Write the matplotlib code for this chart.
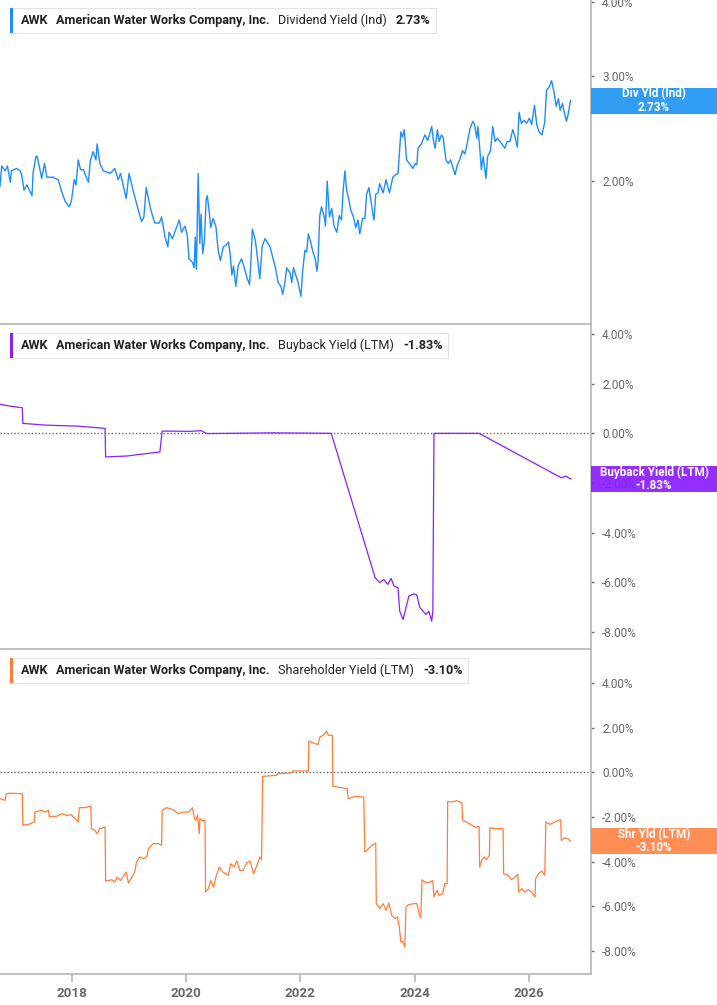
import matplotlib
matplotlib.use("Agg")
import matplotlib.pyplot as plt
from matplotlib.patches import Rectangle
from matplotlib.ticker import FixedLocator, NullLocator, FuncFormatter

plt.rcParams["font.family"] = ["Roboto", "DejaVu Sans"]

W, H = 717, 1005

# ---- data (decimal year, percent) ----
div_years = [
    2016.74, 2016.77, 2016.83, 2016.87, 2016.92, 2016.94, 2017.03, 2017.09, 2017.12, 2017.16,
    2017.21, 2017.30, 2017.32, 2017.37, 2017.39, 2017.44, 2017.47, 2017.52, 2017.56, 2017.67,
    2017.76, 2017.82, 2017.88, 2017.95, 2017.99, 2018.04, 2018.07, 2018.11, 2018.15, 2018.20,
    2018.25, 2018.29, 2018.32, 2018.37, 2018.42, 2018.44, 2018.49, 2018.55, 2018.67, 2018.75,
    2018.81, 2018.85, 2018.95, 2019.00, 2019.07, 2019.16, 2019.22, 2019.26, 2019.30, 2019.34,
    2019.38, 2019.45, 2019.53, 2019.57, 2019.63, 2019.68, 2019.70, 2019.76, 2019.80, 2019.88,
    2019.92, 2019.98, 2020.02, 2020.05, 2020.11, 2020.14, 2020.16, 2020.18, 2020.21, 2020.24,
    2020.26, 2020.29, 2020.32, 2020.35, 2020.37, 2020.40, 2020.43, 2020.47, 2020.52, 2020.56,
    2020.60, 2020.65, 2020.70, 2020.74, 2020.77, 2020.80, 2020.83, 2020.87, 2020.91, 2020.97,
    2021.01, 2021.06, 2021.11, 2021.13, 2021.16, 2021.21, 2021.23, 2021.29, 2021.33, 2021.38,
    2021.47, 2021.53, 2021.57, 2021.61, 2021.66, 2021.69, 2021.73, 2021.76, 2021.82, 2021.85,
    2021.88, 2021.92, 2021.96, 2022.01, 2022.04, 2022.08, 2022.11, 2022.14, 2022.18, 2022.22,
    2022.26, 2022.29, 2022.31, 2022.34, 2022.37, 2022.42, 2022.44, 2022.47, 2022.51, 2022.55,
    2022.59, 2022.64, 2022.68, 2022.72, 2022.75, 2022.78, 2022.81, 2022.84, 2022.88, 2022.93,
    2022.97, 2023.01, 2023.04, 2023.09, 2023.13, 2023.16, 2023.20, 2023.23, 2023.27, 2023.29,
    2023.32, 2023.36, 2023.39, 2023.45, 2023.50, 2023.56, 2023.62, 2023.67, 2023.71, 2023.76,
    2023.79, 2023.82, 2023.86, 2023.91, 2023.97, 2024.01, 2024.04, 2024.06, 2024.12, 2024.18,
    2024.23, 2024.27, 2024.30, 2024.33, 2024.36, 2024.40, 2024.43, 2024.47, 2024.50, 2024.55,
    2024.59, 2024.63, 2024.71, 2024.75, 2024.79, 2024.84, 2024.88, 2024.92, 2024.97, 2025.02,
    2025.05, 2025.09, 2025.11, 2025.14, 2025.17, 2025.20, 2025.25, 2025.28, 2025.33, 2025.37,
    2025.41, 2025.45, 2025.50, 2025.58, 2025.62, 2025.67, 2025.72, 2025.76, 2025.80, 2025.83,
    2025.87, 2025.92, 2025.96, 2026.01, 2026.05, 2026.10, 2026.14, 2026.18, 2026.23, 2026.28,
    2026.31, 2026.36, 2026.40, 2026.44, 2026.48, 2026.52, 2026.55, 2026.59, 2026.63, 2026.66,
    2026.69, 2026.73,
]
div_yield = [
    1.96, 2.12, 2.08, 2.12, 1.99, 2.08, 2.10, 2.08, 2.05, 1.93,
    1.97, 1.89, 2.07, 2.20, 2.20, 2.09, 2.02, 2.14, 2.03, 2.03,
    2.01, 1.92, 1.85, 1.81, 1.85, 2.01, 1.97, 2.17, 2.09, 2.09,
    2.03, 1.99, 2.16, 2.24, 2.17, 2.31, 2.14, 2.08, 2.06, 2.10,
    2.01, 2.06, 1.87, 2.06, 1.93, 1.79, 1.71, 1.74, 1.95, 1.87,
    1.79, 1.70, 1.70, 1.74, 1.61, 1.55, 1.64, 1.60, 1.64, 1.72,
    1.64, 1.68, 1.62, 1.48, 1.46, 1.43, 1.61, 1.42, 2.06, 1.57,
    1.76, 1.51, 1.59, 1.86, 1.89, 1.79, 1.67, 1.73, 1.68, 1.53,
    1.47, 1.55, 1.56, 1.58, 1.51, 1.39, 1.44, 1.33, 1.44, 1.48,
    1.44, 1.38, 1.34, 1.44, 1.66, 1.59, 1.54, 1.37, 1.55, 1.60,
    1.55, 1.47, 1.42, 1.35, 1.33, 1.29, 1.35, 1.43, 1.40, 1.35,
    1.43, 1.39, 1.35, 1.28, 1.41, 1.53, 1.52, 1.63, 1.58, 1.52,
    1.48, 1.41, 1.47, 1.75, 1.81, 1.74, 1.68, 2.00, 1.74, 1.80,
    1.68, 1.64, 1.75, 1.72, 1.93, 2.08, 1.93, 1.88, 1.79, 1.74,
    1.67, 1.72, 1.63, 1.73, 1.73, 1.90, 1.95, 1.87, 1.76, 1.72,
    1.90, 1.91, 1.98, 1.91, 2.01, 1.91, 2.03, 2.05, 2.06, 2.42,
    2.37, 2.44, 2.17, 2.14, 2.10, 2.14, 2.13, 2.27, 2.31, 2.39,
    2.34, 2.41, 2.47, 2.34, 2.27, 2.44, 2.33, 2.39, 2.37, 2.17,
    2.14, 2.17, 2.05, 2.13, 2.17, 2.25, 2.22, 2.31, 2.45, 2.52,
    2.49, 2.36, 2.47, 2.28, 2.09, 2.20, 2.02, 2.20, 2.25, 2.47,
    2.33, 2.36, 2.33, 2.27, 2.33, 2.33, 2.44, 2.37, 2.28, 2.61,
    2.50, 2.53, 2.50, 2.55, 2.49, 2.68, 2.49, 2.42, 2.39, 2.51,
    2.84, 2.88, 2.95, 2.83, 2.67, 2.75, 2.63, 2.70, 2.59, 2.52,
    2.59, 2.73,
]

bb_years = [
    2016.74, 2016.90, 2017.13, 2017.14, 2017.54, 2018.10, 2018.58, 2018.59, 2018.98, 2019.14,
    2019.54, 2019.58, 2020.10, 2020.26, 2020.36, 2021.54, 2022.54, 2023.31, 2023.39, 2023.46,
    2023.53, 2023.59, 2023.64, 2023.71, 2023.74, 2023.80, 2023.85, 2023.90, 2023.99, 2024.04,
    2024.09, 2024.15, 2024.20, 2024.25, 2024.30, 2024.32, 2024.34, 2025.13, 2026.57, 2026.65,
    2026.71, 2026.74,
]
bb_yield = [
    1.17, 1.10, 1.03, 0.40, 0.33, 0.29, 0.20, -0.95, -0.91, -0.86,
    -0.75, 0.09, 0.08, 0.11, -0.01, 0.02, 0.00, -5.81, -6.01, -5.88,
    -6.08, -5.84, -6.15, -6.21, -7.16, -7.49, -7.02, -6.55, -6.46, -6.51,
    -7.00, -7.16, -7.29, -7.16, -7.56, -7.16, 0.00, 0.00, -1.79, -1.72,
    -1.81, -1.83,
]

shr_years = [
    2016.74, 2016.83, 2016.85, 2016.92, 2017.13, 2017.14, 2017.24, 2017.34, 2017.35, 2017.47,
    2017.53, 2017.59, 2017.60, 2017.73, 2017.82, 2017.91, 2017.99, 2018.04, 2018.11, 2018.13,
    2018.23, 2018.33, 2018.34, 2018.40, 2018.44, 2018.49, 2018.58, 2018.59, 2018.70, 2018.75,
    2018.79, 2018.85, 2018.90, 2018.95, 2018.99, 2019.05, 2019.10, 2019.13, 2019.19, 2019.25,
    2019.31, 2019.34, 2019.42, 2019.51, 2019.57, 2019.58, 2019.66, 2019.77, 2019.86, 2019.95,
    2020.04, 2020.11, 2020.14, 2020.17, 2020.20, 2020.23, 2020.24, 2020.27, 2020.33, 2020.34,
    2020.39, 2020.43, 2020.48, 2020.52, 2020.58, 2020.64, 2020.70, 2020.74, 2020.78, 2020.84,
    2020.89, 2020.94, 2021.00, 2021.06, 2021.12, 2021.18, 2021.24, 2021.29, 2021.32, 2021.34,
    2021.59, 2021.60, 2021.85, 2021.86, 2022.14, 2022.15, 2022.23, 2022.31, 2022.34, 2022.40,
    2022.46, 2022.49, 2022.56, 2022.57, 2022.66, 2022.82, 2022.84, 2022.96, 2023.11, 2023.13,
    2023.17, 2023.25, 2023.32, 2023.33, 2023.39, 2023.45, 2023.50, 2023.55, 2023.60, 2023.66,
    2023.70, 2023.73, 2023.76, 2023.79, 2023.83, 2023.85, 2023.89, 2023.98, 2024.04, 2024.08,
    2024.11, 2024.13, 2024.21, 2024.27, 2024.32, 2024.34, 2024.39, 2024.43, 2024.49, 2024.53,
    2024.57, 2024.58, 2024.65, 2024.74, 2024.83, 2024.84, 2024.91, 2025.00, 2025.06, 2025.13,
    2025.14, 2025.18, 2025.22, 2025.26, 2025.31, 2025.32, 2025.41, 2025.55, 2025.56, 2025.64,
    2025.70, 2025.76, 2025.81, 2025.82, 2025.88, 2025.93, 2025.99, 2026.05, 2026.11, 2026.12,
    2026.17, 2026.23, 2026.28, 2026.30, 2026.37, 2026.46, 2026.56, 2026.57, 2026.63, 2026.69,
    2026.73,
]
shr_yield = [
    -1.18, -1.25, -0.96, -0.93, -0.96, -2.37, -2.33, -2.22, -1.78, -1.70,
    -1.78, -1.70, -1.97, -1.97, -1.85, -1.93, -1.90, -2.03, -2.22, -1.58,
    -1.58, -1.51, -2.52, -2.60, -2.75, -2.52, -2.45, -4.87, -4.81, -4.91,
    -4.69, -4.84, -4.66, -4.46, -4.96, -4.69, -4.46, -4.02, -3.79, -3.87,
    -3.79, -3.42, -3.19, -3.19, -3.27, -1.70, -1.58, -1.67, -1.85, -1.78,
    -1.78, -1.58, -2.00, -2.15, -1.90, -2.75, -2.07, -2.15, -2.15, -5.36,
    -5.21, -4.84, -5.14, -4.69, -4.24, -4.46, -4.54, -4.61, -4.09, -4.24,
    -3.97, -4.39, -4.39, -4.06, -3.97, -4.54, -4.16, -3.79, -3.91, -0.18,
    -0.13, -0.06, -0.03, 0.06, 0.06, 1.40, 1.31, 1.25, 1.58, 1.66,
    1.85, 1.66, 1.66, -0.63, -0.66, -0.73, -1.18, -1.07, -1.11, -3.57,
    -3.49, -3.27, -3.17, -5.88, -6.10, -5.88, -6.18, -5.85, -6.40, -6.55,
    -6.48, -6.85, -7.60, -7.55, -7.82, -6.03, -5.93, -5.88, -5.88, -6.33,
    -6.51, -4.81, -4.96, -4.91, -4.84, -5.58, -5.28, -5.51, -5.43, -4.98,
    -4.98, -1.30, -1.33, -1.27, -1.37, -2.15, -2.22, -2.37, -2.45, -2.42,
    -4.24, -3.91, -3.79, -3.91, -3.72, -2.48, -2.52, -2.52, -4.54, -4.61,
    -4.81, -4.69, -4.57, -5.36, -5.21, -5.36, -5.25, -5.36, -5.58, -4.76,
    -4.54, -4.42, -4.61, -2.22, -2.33, -2.22, -2.12, -3.05, -2.93, -2.97,
    -3.08,
]

year_ticks = [2018, 2020, 2022, 2024, 2026]
company = "AWK"
company_name = "American Water Works Company, Inc."

GRAY = "#666666"
SPINE = "#b5b5b5"

fig = plt.figure(figsize=(W / 100, H / 100), dpi=100)
renderer = fig.canvas.get_renderer()


def fx(x):
    return x / W


def fy(y):
    return 1 - y / H


def make_axes(top):
    ax = fig.add_axes([0, fy(top + 324), fx(591), 324 / H])
    ax.set_facecolor("none")
    for s in ("top", "left"):
        ax.spines[s].set_visible(False)
    ax.spines["right"].set_color(SPINE)
    ax.spines["bottom"].set_color(SPINE)
    ax.spines["right"].set_linewidth(1.2)
    ax.spines["bottom"].set_linewidth(1.2)
    ax.yaxis.tick_right()
    ax.tick_params(axis="y", which="major", length=2, width=1, color=GRAY,
                   labelsize=8.5, labelcolor=GRAY, pad=6)
    ax.tick_params(axis="y", which="minor", length=0)
    ax.set_xlim(2016.74, 2027.09)
    return ax


def pct(v, _pos=None):
    return f"{v:.2f}%"


def header(top, metric, value, color):
    yc = top + 20.5
    x = 20.5
    parts = [(company, "bold"), (company_name, "bold"), (metric, "normal"), (value, "bold")]
    for i, (txt, weight) in enumerate(parts):
        t = fig.text(fx(x), fy(yc), txt, fontsize=9.1, fontweight=weight,
                     ha="left", va="center", color="#222222", zorder=6)
        bb = t.get_window_extent(renderer)
        x = bb.x1 + (8.5 if i < len(parts) - 1 else 0)
    box = Rectangle((fx(10), fy(top + 33)), fx(x + 6 - 10), 25 / H,
                    transform=fig.transFigure, facecolor="white",
                    edgecolor="#e3e3e3", linewidth=0.8, zorder=5)
    fig.patches.append(box)
    bar = Rectangle((fx(10), fy(top + 33)), fx(3), 25 / H,
                    transform=fig.transFigure, facecolor=color,
                    edgecolor="none", zorder=5.5)
    fig.patches.append(bar)


def value_tag(ax, last, tag, value, color):
    yd = ax.transData.transform((2020, last))[1]
    ypx = H - yd
    rect = Rectangle((fx(591), fy(ypx + 13)), fx(717 - 591), 26 / H,
                     transform=fig.transFigure, facecolor=color, edgecolor="none",
                     alpha=0.93, zorder=7)
    fig.patches.append(rect)
    fig.text(fx(654), fy(ypx), f"{tag}\n{value}", fontsize=8.4, fontweight="bold",
             color="white", ha="center", va="center", linespacing=1.05, zorder=8)


# ---- top: dividend yield (log scale) ----
ax1 = make_axes(0)
ax1.plot(div_years, div_yield, color="#1e8cff", lw=1.0)
ax1.set_yscale("log")
ax1.set_ylim(1.15, 4.03)
ax1.yaxis.set_major_locator(FixedLocator([2, 3, 4]))
ax1.yaxis.set_minor_locator(NullLocator())
ax1.yaxis.set_major_formatter(FuncFormatter(pct))
ax1.set_xticks([])

# ---- middle: buyback yield ----
ax2 = make_axes(325)
ax2.plot(bb_years, bb_yield, color="#8a1fff", lw=0.9)
ax2.axhline(0, color=GRAY, lw=1, ls=(0, (1, 1.5)), zorder=1)
ax2.set_ylim(-8.68, 4.36)
ax2.yaxis.set_major_locator(FixedLocator([-8, -6, -4, -2, 0, 2, 4]))
ax2.yaxis.set_major_formatter(FuncFormatter(pct))
ax2.set_xticks([])

# ---- bottom: shareholder yield ----
ax3 = make_axes(650)
ax3.plot(shr_years, shr_yield, color="#ff7d3b", lw=0.9)
ax3.axhline(0, color=GRAY, lw=1, ls=(0, (1, 1.5)), zorder=1)
ax3.set_ylim(-9.03, 5.48)
ax3.yaxis.set_major_locator(FixedLocator([-8, -6, -4, -2, 0, 2, 4]))
ax3.yaxis.set_major_formatter(FuncFormatter(pct))
ax3.set_xticks(year_ticks)
ax3.set_xticklabels([str(y) for y in year_ticks])
ax3.tick_params(axis="x", length=6, width=1.2, color=SPINE, labelsize=9.6,
                labelcolor=GRAY, pad=3)
for lab in ax3.get_xticklabels():
    lab.set_fontweight("bold")

header(0, "Dividend Yield (Ind)", "2.73%", "#1e8cff")
header(325, "Buyback Yield (LTM)", "-1.83%", "#8a1fff")
header(650, "Shareholder Yield (LTM)", "-3.10%", "#ff7d3b")

value_tag(ax1, div_yield[-1], "Div Yld (Ind)", "2.73%", "#2196f3")
value_tag(ax2, bb_yield[-1], "Buyback Yield (LTM)", "-1.83%", "#8a1fff")
value_tag(ax3, shr_yield[-1], "Shr Yld (LTM)", "-3.10%", "#ff8548")

fig.savefig("out.png", dpi=100)
